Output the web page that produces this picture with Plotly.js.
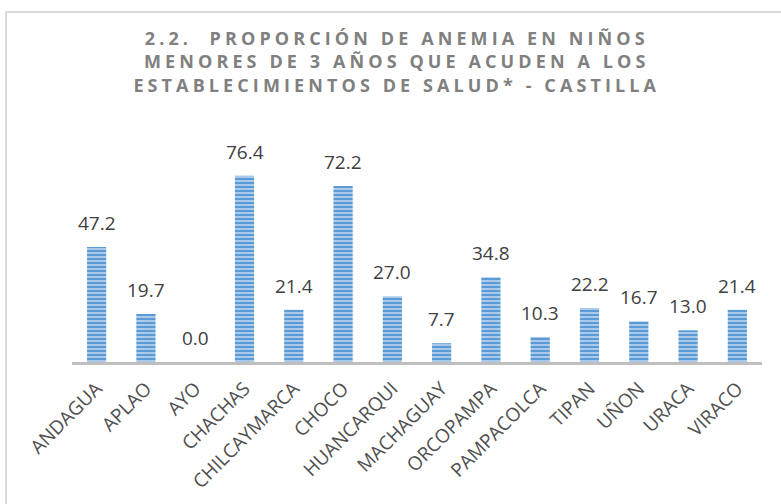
<!DOCTYPE html>
<html>
<head>
<meta charset="utf-8">
<script src="https://cdn.plot.ly/plotly-3.0.1.min.js"></script>
<style>html,body{margin:0;padding:0;background:#fff;}#chart{width:781px;height:504px;}</style>
</head>
<body>
<div id="chart"></div>
<script>
const categories = ["ANDAGUA","APLAO","AYO","CHACHAS","CHILCAYMARCA","CHOCO","HUANCARQUI","MACHAGUAY","ORCOPAMPA","PAMPACOLCA","TIPAN","UÑON","URACA","VIRACO"];
const values = [47.2, 19.7, 0.0, 76.4, 21.4, 72.2, 27.0, 7.7, 34.8, 10.3, 22.2, 16.7, 13.0, 21.4];
const titleLines = ["2.2.  PROPORCIÓN DE ANEMIA EN NIÑOS", "MENORES DE 3 AÑOS QUE ACUDEN A LOS", "ESTABLECIMIENTOS DE SALUD* - CASTILLA"];

const trace = {
  type: 'bar',
  x: categories,
  y: values,
  marker: {
    color: '#5b9bd5',
    line: {width: 0},
    pattern: {shape: '-', size: 4, solidity: 0.45, fgcolor: '#b4d0ee', bgcolor: '#5b9bd5', fillmode: 'replace'}
  },
  hoverinfo: 'skip'
};

const annotations = categories.map((c, i) => ({
  x: c, y: values[i], xref: 'x', yref: 'y',
  text: values[i].toFixed(1),
  showarrow: false, yanchor: 'bottom', yshift: 9,
  font: {family: 'Open Sans, sans-serif', size: 19, color: '#404040'}
}));

const layout = {
  width: 781, height: 504,
  margin: {l: 72, r: 19, t: 167, b: 142},
  paper_bgcolor: '#ffffff', plot_bgcolor: '#ffffff',
  bargap: 0.61,
  showlegend: false,
  title: {
    text: titleLines.join('<br>'),
    x: 0.508, xanchor: 'center', y: 0.911, yanchor: 'top',
    font: {family: 'Open Sans, sans-serif', size: 18, color: '#808080', weight: 'bold'}
  },
  xaxis: {
    type: 'category',
    showline: true, linecolor: '#bfbfbf', linewidth: 3,
    ticks: '', tickangle: -45, ticklabelstandoff: 5,
    tickfont: {family: 'Open Sans, sans-serif', size: 19, color: '#505050'},
    showgrid: false, zeroline: false, fixedrange: true
  },
  yaxis: {
    range: [0, 80], visible: false, showgrid: false, zeroline: false, fixedrange: true
  },
  annotations: annotations,
  shapes: [{
    type: 'rect', xref: 'paper', yref: 'paper',
    x0: (6 - 72) / 690, x1: 1.2, y0: -1, y1: (362 - 12) / 195,
    line: {color: '#d9d9d9', width: 2}, fillcolor: 'rgba(0,0,0,0)', layer: 'below'
  }]
};

Plotly.newPlot('chart', [trace], layout, {displayModeBar: false, staticPlot: true}).then(() => {
  document.querySelectorAll('.gtitle').forEach(el => { el.style.letterSpacing = '4.1px'; });
});
</script>
</body>
</html>
